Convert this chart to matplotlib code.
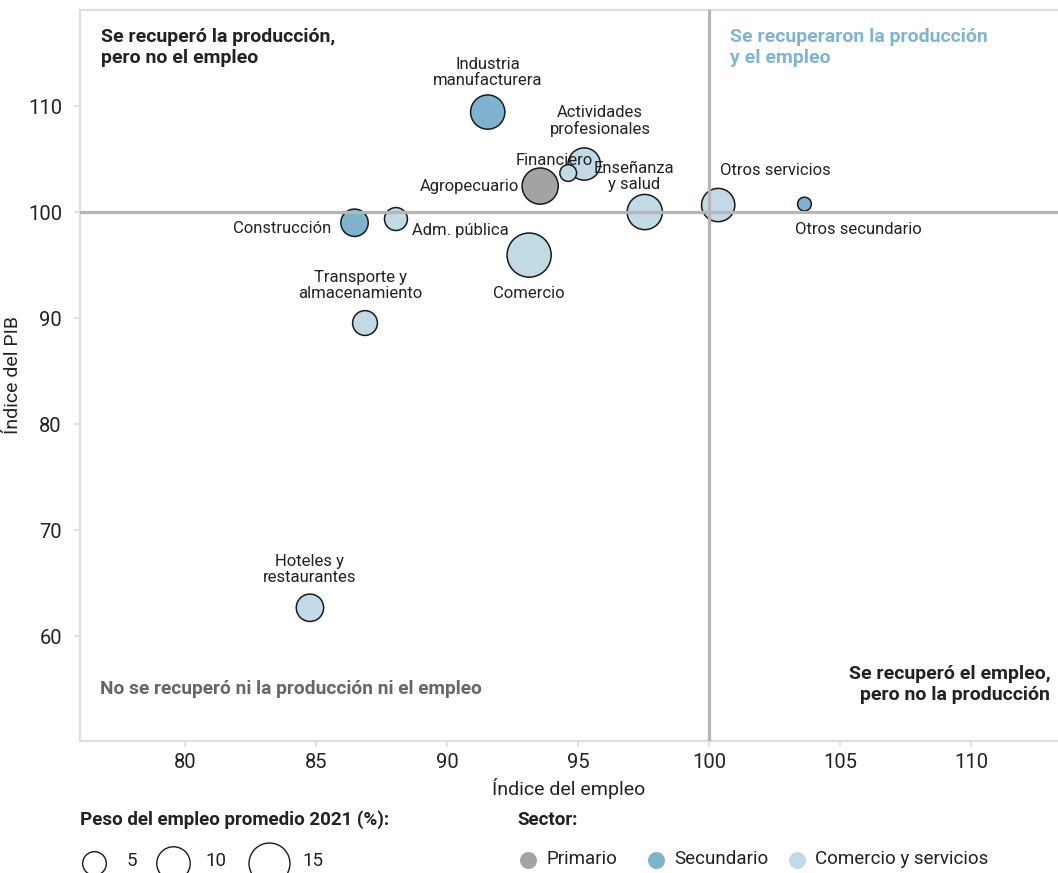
import matplotlib.pyplot as plt

plt.rcParams["font.family"] = ["Roboto", "DejaVu Sans"]

# datos
sectores = [
    "Industria\nmanufacturera", "Actividades\nprofesionales", "Financiero", "Agropecuario",
    "Comercio", "Enseñanza\ny salud", "Otros servicios", "Otros secundario",
    "Construcción", "Adm. pública", "Hoteles y\nrestaurantes", "Transporte y\nalmacenamiento",
]
indice_empleo = [91.55, 95.23, 94.62, 93.55, 93.13, 97.54, 100.34, 103.63, 86.47, 88.05, 84.77, 86.87]
indice_pib = [109.43, 104.53, 103.68, 102.45, 95.94, 100.0, 100.66, 100.75, 98.99, 99.34, 62.67, 89.53]
peso_empleo = [10.5, 9.3, 2.5, 11.7, 17.4, 11.1, 9.9, 1.7, 6.7, 4.7, 6.7, 5.5]
tipo_sector = ["Secundario", "Comercio y servicios", "Comercio y servicios", "Primario",
               "Comercio y servicios", "Comercio y servicios", "Comercio y servicios", "Secundario",
               "Secundario", "Comercio y servicios", "Comercio y servicios", "Comercio y servicios"]

colores = {"Primario": "#a3a3a3", "Secundario": "#7db3cf", "Comercio y servicios": "#c2d9e6"}
tamanos_leyenda = [5, 10, 15]

# offsets de etiquetas (px) y alineación
etiquetas = [
    ((0, 24), "center", "bottom"),
    ((16, 27), "center", "bottom"),
    ((-14, 13), "center", "center"),
    ((-21, 0), "right", "center"),
    ((0, -38), "center", "center"),
    ((-11, 20), "center", "bottom"),
    ((2, 35), "left", "center"),
    ((-9, -25), "left", "center"),
    ((-23, -6), "right", "center"),
    ((16, -11), "left", "center"),
    ((0, 23), "center", "bottom"),
    ((-5, 22), "center", "bottom"),
]

ESCALA = 58
TXT = "#222222"
GRIS = "#dddddd"

fig = plt.figure(figsize=(10.58, 8.73), dpi=100)
ax = fig.add_axes([80 / 1058, 132 / 873, 978 / 1058, 731 / 873])

ax.scatter(indice_empleo, indice_pib, s=[w * ESCALA for w in peso_empleo],
           c=[colores[t] for t in tipo_sector], edgecolors="#1a1a1a", linewidths=1.1, zorder=3)
ax.axhline(100, color="#b5b5b5", lw=2.3, zorder=4)
ax.axvline(100, color="#b5b5b5", lw=2.3, zorder=4)

for x, y, nombre, (off, ha, va) in zip(indice_empleo, indice_pib, sectores, etiquetas):
    ax.annotate(nombre, (x, y), xytext=off, textcoords="offset pixels", ha=ha, va=va,
                fontsize=12, color=TXT, linespacing=1.1, zorder=5)

ax.set_xlim(76.0, 113.3)
ax.set_ylim(50.1, 119.06)
ax.set_xticks([80, 85, 90, 95, 100, 105, 110])
ax.set_yticks([60, 70, 80, 90, 100, 110])
ax.tick_params(colors=GRIS, labelcolor=TXT, labelsize=14.5, length=4, width=1.2, pad=5)
ax.tick_params(axis="y", pad=9)
for lado in ["left", "bottom", "top"]:
    ax.spines[lado].set_color(GRIS)
    ax.spines[lado].set_linewidth(1.5)
ax.spines["right"].set_visible(False)
ax.set_xlabel("Índice del empleo", fontsize=14, color=TXT, labelpad=4)
ax.set_ylabel("Índice del PIB", fontsize=14, color=TXT, labelpad=4)

titulo = dict(fontsize=14, fontweight="bold", linespacing=1.2)
ax.text(0.0215, 0.975, "Se recuperó la producción,\npero no el empleo", transform=ax.transAxes,
        ha="left", va="top", color=TXT, **titulo)
ax.text(0.665, 0.975, "Se recuperaron la producción\ny el empleo", transform=ax.transAxes,
        ha="left", va="top", color="#7fb5d2", **titulo)
ax.text(0.0205, 0.071, "No se recuperó ni la producción ni el empleo", transform=ax.transAxes,
        ha="left", va="center", fontsize=13.8, fontweight="bold", color="#666666")
ax.text(0.992, 0.104, "Se recuperó el empleo,\npero no la producción", transform=ax.transAxes,
        ha="right", va="top", color=TXT, **titulo)

# leyendas dibujadas en coordenadas de píxel de la figura
leg = fig.add_axes([0, 0, 1, 1], facecolor="none")
leg.set_xlim(0, 1058)
leg.set_ylim(873, 0)
leg.axis("off")

leg.text(80, 820, "Peso del empleo promedio 2021 (%):", ha="left", va="center",
         fontsize=13.5, fontweight="bold", color=TXT)
circ_x = [94, 173, 269]
lab_x = [127, 205, 302]
for cx, lx, w in zip(circ_x, lab_x, tamanos_leyenda):
    leg.scatter([cx], [863], s=w * ESCALA, facecolor="white", edgecolor="#1a1a1a", linewidths=1.0)
    leg.text(lx, 861, str(w), ha="left", va="center", fontsize=13.5, color=TXT)

leg.text(517, 820, "Sector:", ha="left", va="center", fontsize=13.5, fontweight="bold", color=TXT)
sec_x = [528, 656, 797]
for sx, (nombre, col) in zip(sec_x, colores.items()):
    leg.scatter([sx], [860], s=150, color=col, linewidths=0)
    leg.text(sx + 18, 859, nombre, ha="left", va="center", fontsize=13.5, color=TXT)

fig.savefig("out.png", dpi=100)
